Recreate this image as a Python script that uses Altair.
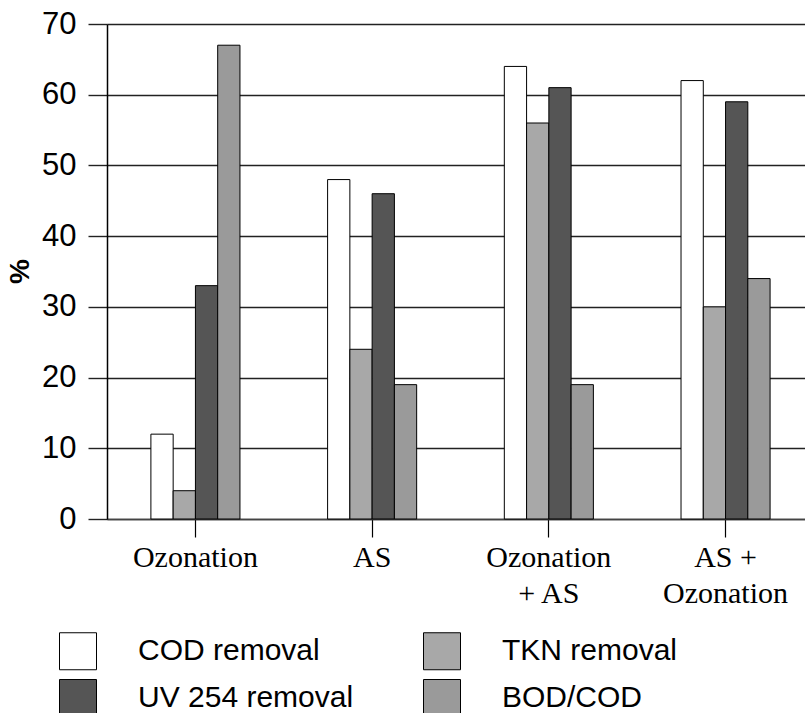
import altair as alt
import pandas as pd

categories = ["Ozonation", "AS", "Ozonation|+ AS", "AS +|Ozonation"]
series = ["COD removal", "TKN removal", "UV 254 removal", "BOD/COD"]
legend_order = ["COD removal", "UV 254 removal", "TKN removal", "BOD/COD"]
cod_removal = [12, 48, 64, 62]
tkn_removal = [4, 24, 56, 30]
uv254_removal = [33, 46, 61, 59]
bod_cod = [67, 19, 19, 34]
y_ticks = [0, 10, 20, 30, 40, 50, 60, 70]
fills = ["#ffffff", "#a8a8a8", "#555555", "#9a9a9a"]

rows = []
for vals, s in zip([cod_removal, tkn_removal, uv254_removal, bod_cod], series):
    for c, v in zip(categories, vals):
        rows.append({"cat": c, "series": s, "value": v})
df = pd.DataFrame(rows)

chart = alt.Chart(df).mark_bar(stroke="black", strokeWidth=1).encode(
    x=alt.X("cat:N", sort=categories,
            scale=alt.Scale(paddingInner=0.496, paddingOuter=0.223, align=0.557),
            axis=alt.Axis(title=None, labelExpr="split(datum.label, '|')",
                          labelFont="Liberation Serif", labelFontSize=30,
                          labelColor="black", labelAngle=0, labelPadding=5,
                          labelLineHeight=36,
                          tickSize=18, tickColor="black", tickWidth=1.2,
                          domainColor="#444", domainWidth=1.5, grid=False)),
    xOffset=alt.XOffset("series:N", sort=series,
                        scale=alt.Scale(paddingInner=0, paddingOuter=0)),
    y=alt.Y("value:Q", scale=alt.Scale(domain=[0, 70], nice=False),
            axis=alt.Axis(title="%", values=y_ticks, labelFont="Liberation Sans",
                          labelFontSize=31, labelColor="black", labelPadding=12,
                          tickSize=19, tickColor="#222", tickWidth=1.4,
                          domainColor="black", domainWidth=1.5,
                          grid=True, gridColor="#222", gridWidth=1.4,
                          titleFont="Liberation Sans", titleFontSize=28,
                          titleFontWeight="bold", titleColor="black",
                          titleAngle=270, titleX=-73, titleY=247,
                          titleAlign="center", titleBaseline="bottom")),
    fill=alt.Fill("series:N", sort=series,
                  scale=alt.Scale(domain=series, range=fills),
                  legend=alt.Legend(title=None, orient="none", legendX=-48, legendY=608,
                                    values=legend_order,
                                    columns=2, symbolType="square", symbolSize=1369,
                                    symbolStrokeColor="black", symbolStrokeWidth=1,
                                    symbolOpacity=1,
                                    labelFont="Liberation Sans", labelFontSize=30,
                                    labelColor="black", labelOffset=41, labelLimit=400,
                                    rowPadding=5, columnPadding=67, padding=0)),
).properties(
    width=698, height=495,
    autosize=alt.AutoSizeParams(type="none"),
    padding={"left": 107, "top": 24, "right": 0, "bottom": 194},
).configure_view(stroke=None).configure(background="white")

chart.save("out.html", embed_options={"renderer": "svg", "actions": False})
